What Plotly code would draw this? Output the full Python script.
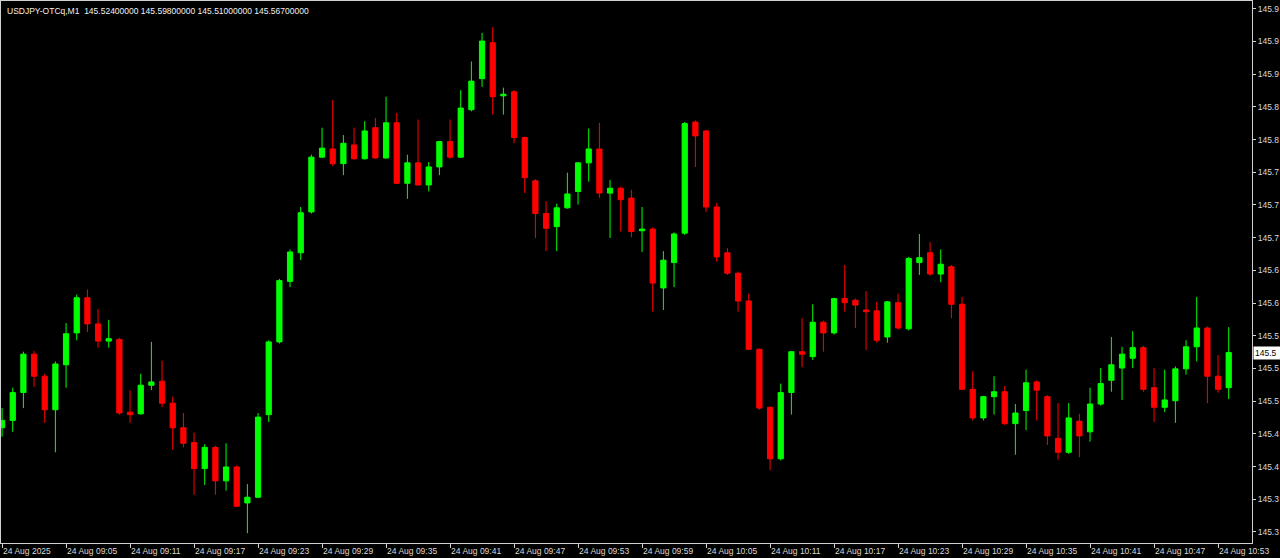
import pandas as pd
import plotly.graph_objects as go

SYMBOL_HEADER = "USDJPY-OTCq,M1  145.52400000 145.59800000 145.51000000 145.56700000"
LAST_PRICE = 145.567
LAST_PRICE_LABEL = "145.5"

times = pd.date_range("2025-08-24 08:59", periods=116, freq="min")

opens = [145.475, 145.484, 145.518, 145.565, 145.538, 145.497, 145.552, 145.591, 145.634, 145.602,
         145.581, 145.583, 145.494, 145.492, 145.527, 145.532, 145.505, 145.475, 145.457, 145.425,
         145.451, 145.410, 145.427, 145.383, 145.390, 145.491, 145.580, 145.654, 145.689, 145.739,
         145.806, 145.816, 145.798, 145.821, 145.804, 145.842, 145.805, 145.848, 145.774, 145.799,
         145.772, 145.794, 145.825, 145.806, 145.864, 145.902, 145.946, 145.881, 145.886, 145.830,
         145.777, 145.737, 145.721, 145.744, 145.764, 145.799, 145.816, 145.762, 145.768, 145.756,
         145.716, 145.718, 145.646, 145.677, 145.713, 145.849, 145.838, 145.745, 145.689, 145.664,
         145.630, 145.571, 145.500, 145.437, 145.518, 145.568, 145.562, 145.604, 145.591, 145.633,
         145.631, 145.619, 145.618, 145.586, 145.628, 145.596, 145.677, 145.689, 145.663, 145.672,
         145.626, 145.522, 145.487, 145.513, 145.519, 145.480, 145.496, 145.531, 145.513, 145.462,
         145.445, 145.483, 145.470, 145.504, 145.533, 145.548, 145.560, 145.573, 145.524, 145.500,
         145.508, 145.547, 145.574, 145.597, 145.538, 145.524]
highs = [145.499, 145.524, 145.568, 145.569, 145.541, 145.556, 145.603, 145.638, 145.644, 145.620,
         145.607, 145.585, 145.521, 145.541, 145.580, 145.557, 145.513, 145.493, 145.469, 145.455,
         145.453, 145.456, 145.429, 145.406, 145.493, 145.582, 145.657, 145.693, 145.745, 145.809,
         145.842, 145.876, 145.833, 145.842, 145.850, 145.854, 145.880, 145.860, 145.809, 145.852,
         145.800, 145.826, 145.852, 145.888, 145.923, 145.958, 145.965, 145.891, 145.888, 145.831,
         145.779, 145.752, 145.749, 145.787, 145.800, 145.841, 145.848, 145.778, 145.770, 145.766,
         145.745, 145.720, 145.691, 145.714, 145.849, 145.851, 145.839, 145.750, 145.695, 145.666,
         145.639, 145.572, 145.501, 145.529, 145.569, 145.609, 145.626, 145.606, 145.634, 145.674,
         145.633, 145.642, 145.629, 145.630, 145.639, 145.684, 145.712, 145.702, 145.693, 145.674,
         145.635, 145.544, 145.514, 145.538, 145.526, 145.504, 145.546, 145.533, 145.515, 145.505,
         145.505, 145.492, 145.524, 145.548, 145.586, 145.574, 145.593, 145.575, 145.548, 145.546,
         145.550, 145.582, 145.635, 145.599, 145.564, 145.598]
lows = [145.464, 145.470, 145.499, 145.525, 145.481, 145.445, 145.524, 145.582, 145.592, 145.573,
        145.573, 145.491, 145.481, 145.491, 145.521, 145.500, 145.448, 145.451, 145.393, 145.405,
        145.393, 145.398, 145.378, 145.346, 145.389, 145.482, 145.578, 145.647, 145.680, 145.737,
        145.805, 145.795, 145.784, 145.803, 145.803, 145.804, 145.804, 145.773, 145.755, 145.771,
        145.764, 145.784, 145.804, 145.805, 145.862, 145.892, 145.858, 145.858, 145.823, 145.762,
        145.707, 145.691, 145.691, 145.743, 145.748, 145.776, 145.756, 145.707, 145.715, 145.708,
        145.690, 145.617, 145.619, 145.647, 145.711, 145.794, 145.739, 145.678, 145.662, 145.617,
        145.570, 145.497, 145.423, 145.435, 145.491, 145.549, 145.558, 145.568, 145.589, 145.617,
        145.597, 145.570, 145.579, 145.579, 145.595, 145.594, 145.662, 145.661, 145.653, 145.609,
        145.521, 145.484, 145.484, 145.491, 145.478, 145.442, 145.472, 145.484, 145.454, 145.436,
        145.443, 145.439, 145.458, 145.502, 145.519, 145.509, 145.548, 145.519, 145.482, 145.494,
        145.481, 145.540, 145.556, 145.505, 145.518, 145.510]
closes = [145.484, 145.518, 145.565, 145.538, 145.497, 145.553, 145.590, 145.634, 145.602, 145.581,
          145.584, 145.493, 145.491, 145.527, 145.531, 145.505, 145.475, 145.456, 145.425, 145.451,
          145.410, 145.427, 145.379, 145.390, 145.488, 145.580, 145.655, 145.690, 145.738, 145.806,
          145.817, 145.798, 145.823, 145.804, 145.838, 145.805, 145.848, 145.774, 145.799, 145.772,
          145.794, 145.825, 145.806, 145.866, 145.899, 145.948, 145.880, 145.883, 145.830, 145.781,
          145.737, 145.719, 145.744, 145.761, 145.799, 145.816, 145.762, 145.768, 145.754, 145.715,
          145.718, 145.652, 145.680, 145.712, 145.847, 145.832, 145.745, 145.684, 145.664, 145.630,
          145.571, 145.499, 145.437, 145.518, 145.568, 145.565, 145.604, 145.591, 145.633, 145.628,
          145.625, 145.617, 145.582, 145.629, 145.597, 145.682, 145.683, 145.663, 145.675, 145.626,
          145.522, 145.487, 145.513, 145.519, 145.480, 145.493, 145.530, 145.521, 145.465, 145.445,
          145.487, 145.465, 145.504, 145.529, 145.552, 145.565, 145.573, 145.522, 145.500, 145.509,
          145.547, 145.574, 145.597, 145.538, 145.522, 145.567]

x_tick_times = ["2025-08-24 08:59", "2025-08-24 09:05", "2025-08-24 09:11", "2025-08-24 09:17",
                "2025-08-24 09:23", "2025-08-24 09:29", "2025-08-24 09:35", "2025-08-24 09:41",
                "2025-08-24 09:47", "2025-08-24 09:53", "2025-08-24 09:59", "2025-08-24 10:05",
                "2025-08-24 10:11", "2025-08-24 10:17", "2025-08-24 10:23", "2025-08-24 10:29",
                "2025-08-24 10:35", "2025-08-24 10:41", "2025-08-24 10:47", "2025-08-24 10:53"]
x_tick_labels = ["24 Aug 2025", "24 Aug 09:05", "24 Aug 09:11", "24 Aug 09:17", "24 Aug 09:23",
                 "24 Aug 09:29", "24 Aug 09:35", "24 Aug 09:41", "24 Aug 09:47", "24 Aug 09:53",
                 "24 Aug 09:59", "24 Aug 10:05", "24 Aug 10:11", "24 Aug 10:17", "24 Aug 10:23",
                 "24 Aug 10:29", "24 Aug 10:35", "24 Aug 10:41", "24 Aug 10:47", "24 Aug 10:53"]

y_tick_values = [145.3475, 145.3875, 145.4275, 145.4675, 145.5075, 145.5475, 145.5875, 145.6275,
                 145.6675, 145.7075, 145.7475, 145.7875, 145.8275, 145.8675, 145.9075, 145.9475,
                 145.9875]
y_tick_labels = ["145.3", "145.3", "145.4", "145.4", "145.5", "145.5", "145.5", "145.6",
                 "145.6", "145.7", "145.7", "145.7", "145.8", "145.8", "145.9", "145.9", "145.9"]

X_RANGE = ["2025-08-24 08:58:54", "2025-08-24 10:56:11"]
Y_RANGE = [145.334, 145.997]

UP = "#00ff00"
DOWN = "#ff0000"
FRAME = "#d0d0d0"
TEXT = "#d8d8d8"
FONT = "Liberation Sans"
FSIZE = 8.5

fig = go.Figure(go.Candlestick(
    x=times, open=opens, high=highs, low=lows, close=closes,
    increasing=dict(line=dict(color=UP, width=1), fillcolor=UP),
    decreasing=dict(line=dict(color=DOWN, width=1), fillcolor=DOWN),
    whiskerwidth=0, showlegend=False,
))

fig.update_layout(
    width=1280, height=558,
    margin=dict(l=1, r=28, t=1, b=15),
    paper_bgcolor="#000000", plot_bgcolor="#000000",
    font=dict(family=FONT, size=FSIZE, color=TEXT),
    boxgap=0.3,
    showlegend=False,
)
fig.update_xaxes(
    type="date", range=X_RANGE, rangeslider_visible=False,
    showgrid=False, zeroline=False,
    showline=True, mirror=True, linecolor=FRAME, linewidth=1,
    ticks="outside", ticklen=4, tickcolor=FRAME,
    tickmode="array", tickvals=x_tick_times, ticktext=x_tick_labels,
    ticklabelposition="outside right",
    tickfont=dict(family=FONT, size=FSIZE, color=TEXT),
)
fig.update_yaxes(
    range=Y_RANGE, side="right",
    showgrid=False, zeroline=False,
    showline=True, mirror=True, linecolor=FRAME, linewidth=1,
    ticks="outside", ticklen=3, tickcolor=FRAME,
    tickmode="array", tickvals=y_tick_values, ticktext=y_tick_labels,
    tickfont=dict(family=FONT, size=FSIZE, color=TEXT),
)

fig.add_annotation(
    text=SYMBOL_HEADER, xref="paper", yref="paper", x=0, y=1,
    xanchor="left", yanchor="top", xshift=4, yshift=-3, showarrow=False,
    font=dict(family=FONT, size=FSIZE, color="#f0f0f0"),
)
fig.add_annotation(
    text=LAST_PRICE_LABEL, xref="paper", yref="y", x=1, y=LAST_PRICE,
    xanchor="left", yanchor="middle", xshift=1, showarrow=False,
    bgcolor="#ffffff", borderpad=1, width=26, align="left",
    font=dict(family=FONT, size=FSIZE, color="#000000"),
)

fig.write_html(
    "out.html",
    config={"displayModeBar": False},
    post_script="document.body.style.margin='0';document.body.style.overflow='hidden';",
)
